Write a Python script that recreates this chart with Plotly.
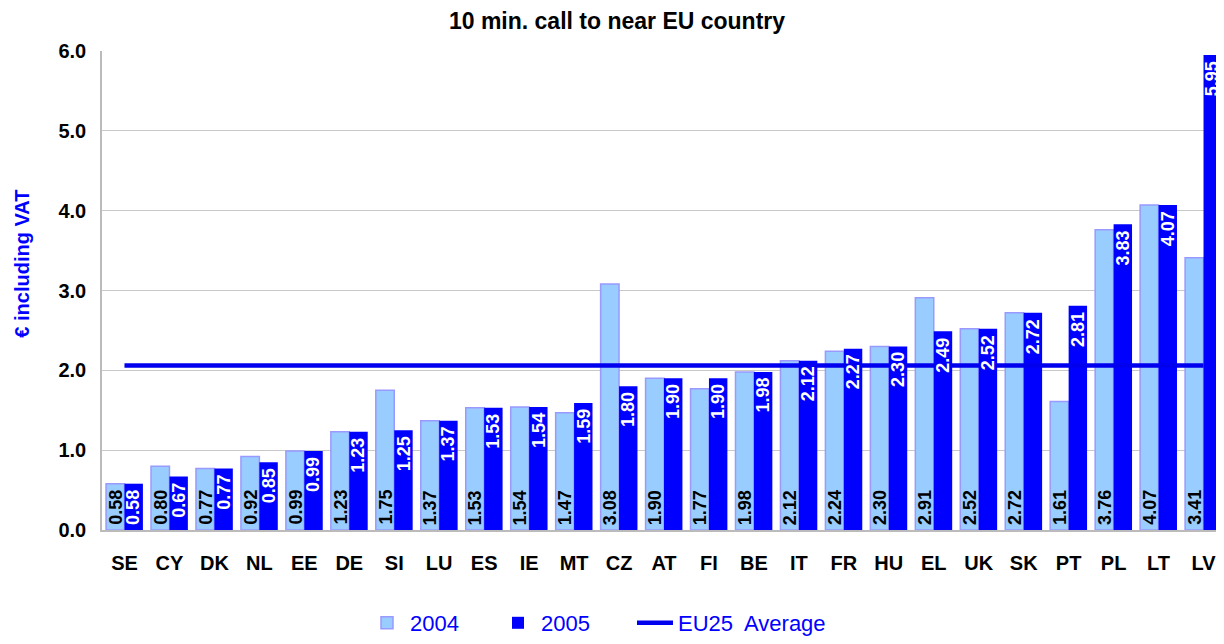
import plotly.graph_objects as go

# -----------------------------
# Data
# -----------------------------
countries = ["SE", "CY", "DK", "NL", "EE", "DE", "SI", "LU", "ES", "IE", "MT", "CZ", "AT",
             "FI", "BE", "IT", "FR", "HU", "EL", "UK", "SK", "PT", "PL", "LT", "LV"]
price_2004 = [0.58, 0.80, 0.77, 0.92, 0.99, 1.23, 1.75, 1.37, 1.53, 1.54, 1.47, 3.08, 1.90,
              1.77, 1.98, 2.12, 2.24, 2.30, 2.91, 2.52, 2.72, 1.61, 3.76, 4.07, 3.41]
price_2005 = [0.58, 0.67, 0.77, 0.85, 0.99, 1.23, 1.25, 1.37, 1.53, 1.54, 1.59, 1.80, 1.90,
              1.90, 1.98, 2.12, 2.27, 2.30, 2.49, 2.52, 2.72, 2.81, 3.83, 4.07, 5.95]
eu25_average = 2.06

FONT = "Arial, Liberation Sans, sans-serif"
BLUE = "#0000FF"

# page has an 8px body margin, so the figure is sized/shifted for that
W, H = 1218, 636
M_L, M_R, M_T, M_B = 94, 0, 43, 111
PLOT_W = W - M_L - M_R
PLOT_H = H - M_T - M_B
BARGAP = 0.18
cat_w = PLOT_W / len(countries)
half_bar = cat_w * (1 - BARGAP) / 4

fig = go.Figure()

fig.add_trace(go.Bar(
    x=countries, y=price_2004, name="2004", legend="legend",
    marker=dict(color="#99CCFF", line=dict(color="#9999FF", width=1.5)),
))
fig.add_trace(go.Bar(
    x=countries, y=price_2005, name="2005", legend="legend",
    marker=dict(color=BLUE, line=dict(width=0)),
))
fig.add_trace(go.Scatter(
    x=countries, y=[eu25_average] * len(countries), name="EU25\u00a0 Average",
    legend="legend2", mode="lines", line=dict(color="#0000EE", width=4.5),
))

# value labels (rotated, inside the bars)
annotations = []
for c, v4, v5 in zip(countries, price_2004, price_2005):
    annotations.append(dict(
        x=c, y=0, xref="x", yref="y", text=f"<b>{v4:.2f}</b>", showarrow=False,
        textangle=-90, xanchor="center", yanchor="bottom", xshift=-half_bar, yshift=3,
        font=dict(family=FONT, size=18, color="black"),
    ))
    annotations.append(dict(
        x=c, y=v5, xref="x", yref="y", text=f"<b>{v5:.2f}</b>", showarrow=False,
        textangle=-90, xanchor="center", yanchor="top", xshift=half_bar, yshift=-4,
        font=dict(family=FONT, size=18, color="white"),
    ))

# y axis title, placed like the original (a bit above the axis middle)
annotations.append(dict(
    x=(14 - M_L) / PLOT_W, y=(525 - 257) / PLOT_H, xref="paper", yref="paper",
    text="<b>€ including VAT</b>", showarrow=False, textangle=-90,
    xanchor="center", yanchor="middle", font=dict(family=FONT, size=20, color=BLUE),
))

legend_style = dict(orientation="h", xanchor="left", y=-0.195, yanchor="middle",
                    font=dict(family=FONT, size=22, color=BLUE), itemwidth=36,
                    bgcolor="rgba(0,0,0,0)")

fig.update_layout(
    width=W, height=H,
    margin=dict(l=M_L, r=M_R, t=M_T, b=M_B, pad=0),
    paper_bgcolor="white", plot_bgcolor="white",
    barmode="group", bargap=BARGAP, bargroupgap=0,
    title=dict(text="<b>10 min. call to near EU country</b>", x=0.5, xref="container", xanchor="center",
               y=1 - 13 / H, yref="container", yanchor="middle",
               font=dict(family=FONT, size=23, color="black")),
    font=dict(family=FONT),
    showlegend=True,
    legend=dict(x=(356 - M_L) / PLOT_W, entrywidth=80, entrywidthmode="pixels",
                traceorder="normal", **legend_style),
    legend2=dict(x=(624 - M_L) / PLOT_W, **legend_style),
    annotations=annotations,
)

fig.update_yaxes(
    range=[0, 6], dtick=1, tickformat=".1f",
    tickfont=dict(family=FONT, size=20, color="black", weight="bold"),
    showgrid=True, gridcolor="#C8C8C8", gridwidth=1,
    showline=True, linecolor="#BBBBBB", linewidth=1.5,
    ticks="", ticklabelstandoff=10,
    zeroline=False,
)
fig.update_xaxes(
    tickfont=dict(family=FONT, size=20, color="black", weight="bold"),
    showline=True, linecolor="#BBBBBB", linewidth=2,
    ticks="", ticklabelstandoff=14,
)

fig.write_html("out.html")
